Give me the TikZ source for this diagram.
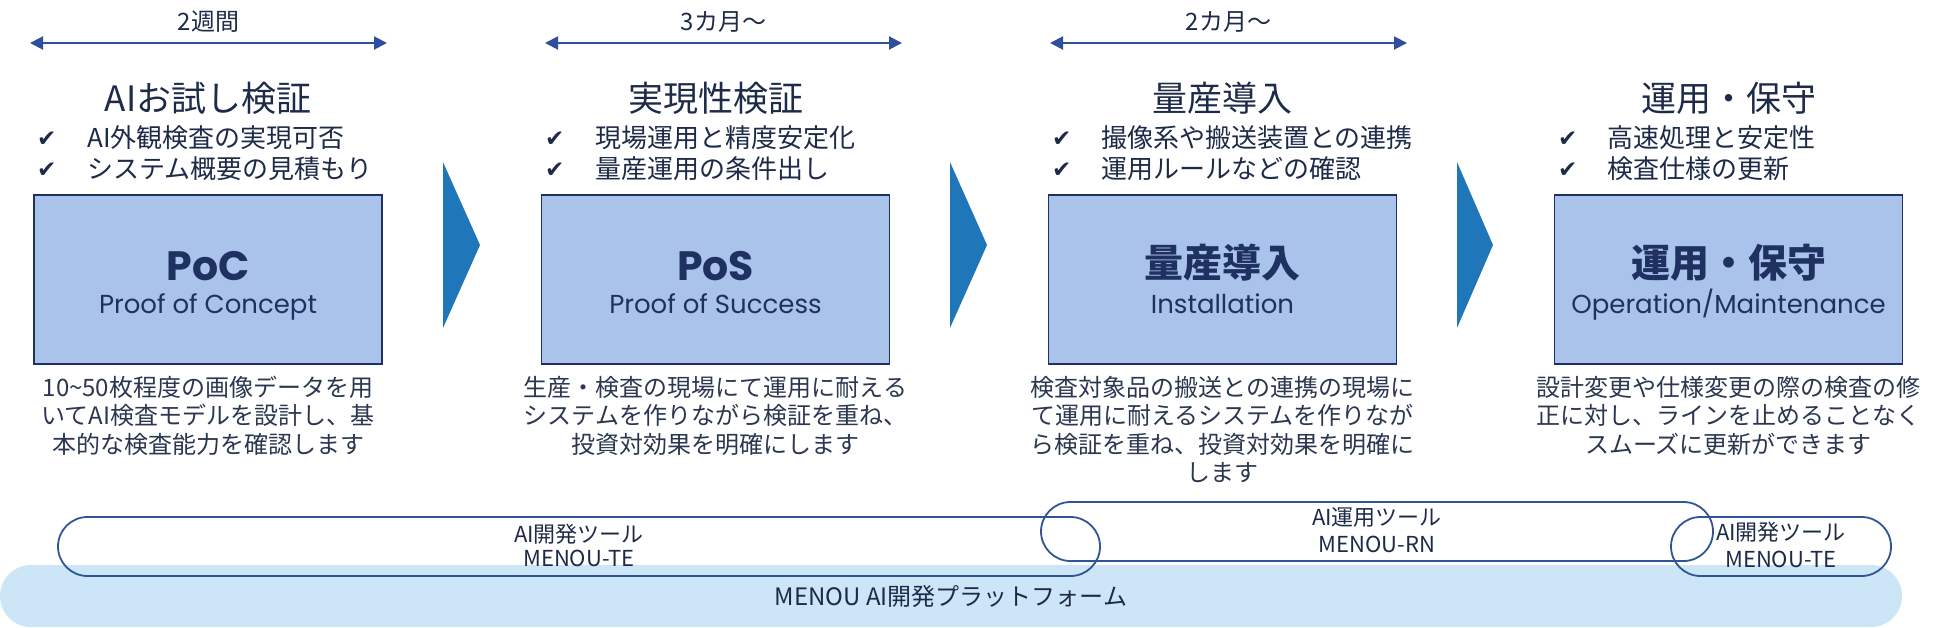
\documentclass[tikz,border=0pt]{standalone}
\usepackage{fontspec}
\setmainfont{Noto Sans CJK JP}
\newfontfamily\latf{Poppins}
\newfontfamily\symf{DejaVu Sans}
\usetikzlibrary{arrows.meta}
\definecolor{boxfill}{HTML}{AAC3EB}
\definecolor{boxline}{HTML}{1F3160}
\definecolor{chev}{HTML}{1F77B9}
\definecolor{arr}{HTML}{2E4E9E}
\definecolor{band}{HTML}{CCE5F7}
\definecolor{caps}{HTML}{2F5597}
\definecolor{txt}{HTML}{1E2B48}
\definecolor{dtxt}{HTML}{2B3750}
\newcommand{\pxs}[1]{\fontsize{#1}{#1}\selectfont}
\tikzset{
  phasebox/.style={draw=boxline, line width=1.5pt, fill=boxfill, minimum width=348pt, minimum height=169pt, inner sep=0pt},
  timelbl/.style={anchor=base, inner sep=0pt, text=txt, font=\pxs{24}},
  timearrow/.style={draw=arr, line width=2pt, {Triangle[length=13pt,width=13pt]}-{Triangle[length=13pt,width=13pt]}},
  phasetitle/.style={anchor=base, inner sep=0pt, text=txt, font=\pxs{35}},
  chk/.style={anchor=base west, inner sep=0pt, text=txt, font=\symf\pxs{23}},
  chktxt/.style={anchor=base west, inner sep=0pt, text=txt, font=\pxs{26}},
  biglat/.style={anchor=base, inner sep=0pt, text=boxline, font=\latf\bfseries\pxs{41}},
  bigjp/.style={anchor=base, inner sep=0pt, text=boxline, font=\bfseries\pxs{39}},
  sublat/.style={anchor=base, inner sep=0pt, text=boxline, font=\latf\pxs{26}},
  desc/.style={anchor=base, inner sep=0pt, text=dtxt, font=\pxs{24}},
  chevron/.style={fill=chev},
  capsule/.style={draw=caps, line width=1.8pt, rounded corners=29.5pt, minimum height=59pt, inner sep=0pt},
  capslbl/.style={anchor=base, inner sep=0pt, text=txt, font=\pxs{22}},
  bandlbl/.style={anchor=base, inner sep=0pt, text=txt, font=\pxs{24}},
}
\begin{document}
\begin{tikzpicture}[x=1pt,y=-1pt]
\useasboundingbox (0,0) rectangle (1950,628);

% timing arrows
\coordinate (t1l) at (30,43);   \coordinate (t1r) at (387,43);
\coordinate (t2l) at (545,43);  \coordinate (t2r) at (902,43);
\coordinate (t3l) at (1050,43); \coordinate (t3r) at (1407,43);
\draw[timearrow] (t1l) -- (t1r);
\draw[timearrow] (t2l) -- (t2r);
\draw[timearrow] (t3l) -- (t3r);
\node[timelbl] (t1) at (208.5,31) {2週間};
\node[timelbl] (t2) at (723.5,31) {3カ月〜};
\node[timelbl] (t3) at (1228.5,31) {2カ月〜};

% titles
\node[phasetitle] (h1) at (208,112) {AIお試し検証};
\node[phasetitle] (h2) at (715.5,112) {実現性検証};
\node[phasetitle] (h3) at (1222.5,112) {量産導入};
\node[phasetitle] (h4) at (1728.5,112) {運用・保守};

% check lines
\node[chk] (c1a) at (37,147) {✔};   \node[chktxt] (k1a) at (87,147.5) {AI外観検査の実現可否};
\node[chk] (c1b) at (37,178) {✔};   \node[chktxt] (k1b) at (87,178.5) {システム概要の見積もり};
\node[chk] (c2a) at (545,147) {✔};  \node[chktxt] (k2a) at (595,147.5) {現場運用と精度安定化};
\node[chk] (c2b) at (545,178) {✔};  \node[chktxt] (k2b) at (595,178.5) {量産運用の条件出し};
\node[chk] (c3a) at (1052,147) {✔}; \node[chktxt] (k3a) at (1101,147.5) {撮像系や搬送装置との連携};
\node[chk] (c3b) at (1052,178) {✔}; \node[chktxt] (k3b) at (1101,178.5) {運用ルールなどの確認};
\node[chk] (c4a) at (1558,147) {✔}; \node[chktxt] (k4a) at (1607,147.5) {高速処理と安定性};
\node[chk] (c4b) at (1558,178) {✔}; \node[chktxt] (k4b) at (1607,178.5) {検査仕様の更新};

% boxes
\node[phasebox] (b1) at (208,279.5) {};
\node[phasebox] (b2) at (715.5,279.5) {};
\node[phasebox] (b3) at (1222.5,279.5) {};
\node[phasebox] (b4) at (1728.5,279.5) {};
\node[biglat] (l1) at (208,280) {PoC};
\node[sublat] (s1) at (208,313) {Proof of Concept};
\node[biglat] (l2) at (715.5,280) {PoS};
\node[sublat] (s2) at (715.5,313) {Proof of Success};
\node[bigjp] (l3) at (1222.5,277) {量産導入};
\node[sublat] (s3) at (1222.5,313) {Installation};
\node[bigjp] (l4) at (1728.5,277) {運用・保守};
\node[sublat] (s4) at (1728.5,313) {Operation/Maintenance};

% chevrons
\fill[chevron] (443,162) -- (480,245) -- (443,328) -- cycle;
\fill[chevron] (950,162) -- (987,245) -- (950,328) -- cycle;
\fill[chevron] (1457,162) -- (1493,245) -- (1457,328) -- cycle;

% descriptions
\node[desc] (d1a) at (208,396) {10\textasciitilde 50枚程度の画像データを用};
\node[desc] (d1b) at (208,424.5) {いてAI検査モデルを設計し、基};
\node[desc] (d1c) at (208,453) {本的な検査能力を確認します};
\node[desc] (d2a) at (715.5,396) {生産・検査の現場にて運用に耐える};
\node[desc] (d2b) at (715.5,424.5) {システムを作りながら検証を重ね、};
\node[desc] (d2c) at (715.5,453) {投資対効果を明確にします};
\node[desc] (d3a) at (1222.5,396) {検査対象品の搬送との連携の現場に};
\node[desc] (d3b) at (1222.5,424.5) {て運用に耐えるシステムを作りなが};
\node[desc] (d3c) at (1222.5,453) {ら検証を重ね、投資対効果を明確に};
\node[desc] (d3d) at (1222.5,481.5) {します};
\node[desc] (d4a) at (1728.5,396) {設計変更や仕様変更の際の検査の修};
\node[desc] (d4b) at (1728.5,424.5) {正に対し、ラインを止めることなく};
\node[desc] (d4c) at (1728.5,453) {スムーズに更新ができます};

% platform band
\node[fill=band, rounded corners=31pt, minimum width=1902pt, minimum height=62pt, inner sep=0pt] (platform) at (951,596) {};
\node[bandlbl] (platl) at (951,605) {MENOU AI開発プラットフォーム};

% tool capsules
\node[capsule, minimum width=1042pt] (te1) at (579,546.5) {};
\node[capsule, minimum width=672pt] (rn) at (1377,531.5) {};
\node[capsule, minimum width=220pt] (te2) at (1781,546.5) {};
\node[capslbl] (te1a) at (579,542) {AI開発ツール};
\node[capslbl] (te1b) at (579,566.5) {MENOU-TE};
\node[capslbl] (rna) at (1377,525.5) {AI運用ツール};
\node[capslbl] (rnb) at (1377,552.5) {MENOU-RN};
\node[capslbl] (te2a) at (1781,540) {AI開発ツール};
\node[capslbl] (te2b) at (1781,567) {MENOU-TE};
\end{tikzpicture}
\end{document}
